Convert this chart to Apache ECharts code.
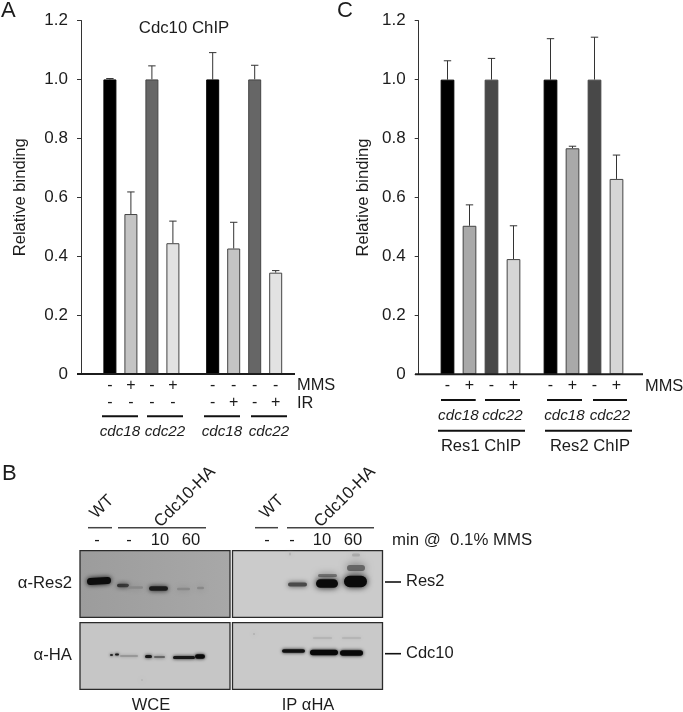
<!DOCTYPE html>
<html><head><meta charset="utf-8">
<style>html,body{margin:0;padding:0;background:#fff}#c{width:683px;height:712px;filter:blur(0.45px)}</style>
<script src="https://cdn.jsdelivr.net/npm/echarts@6/dist/echarts.min.js"></script>
</head><body><div id="c"></div>
<script>
// ---- data ----
const groupsA = ['cdc18 / cdc22 MMS', 'cdc18 / cdc22 IR'];
const groupsC = ['Res1 ChIP', 'Res2 ChIP'];
const yTicks = [0, 0.2, 0.4, 0.6, 0.8, 1.0, 1.2];

const a1 = [1.0, 1.0];
const a2 = [0.543, 0.426];
const a3 = [1.0, 1.0];
const a4 = [0.444, 0.344];
const a1Top = [1.003, 1.091];
const a2Top = [0.618, 0.515];
const a3Top = [1.046, 1.048];
const a4Top = [0.519, 0.351];

const c1 = [1.0, 1.0];
const c2 = [0.504, 0.767];
const c3 = [1.0, 1.0];
const c4 = [0.391, 0.663];
const c1Top = [1.064, 1.139];
const c2Top = [0.575, 0.774];
const c3Top = [1.072, 1.144];
const c4Top = [0.504, 0.744];

const mmsRowA = ['-','+','-','+','-','-','-','-'];
const irRowA  = ['-','-','-','-','-','+','-','+'];
const mmsRowC = ['-','+','-','+','-','+','-','+'];
const strainsA = ['cdc18','cdc22','cdc18','cdc22'];
const strainsC = ['cdc18','cdc22','cdc18','cdc22'];

// ---- styles ----
const FF = '"Liberation Sans", Arial, sans-serif';
const INK = '#1c1c1c';
const coloursA = ['#000000', '#c4c4c4', '#666666', '#e2e2e2'];
const coloursC = ['#000000', '#a9a9a9', '#484848', '#d6d6d6'];

const A = {left: 90, width: 205.6, top: 20.5, height: 353.5, step: 21, bar: 13, axisX: 81};
const C = {left: 429, width: 206, top: 20.7, height: 353.6, step: 22, bar: 13.7, axisX: 418.7};

function grid(p){ return {left:p.left, top:p.top, width:p.width, height:p.height, containLabel:false}; }
function xAxis(gi, cats){ return {
  type:'category', gridIndex:gi, data:cats,
  axisLine:{show:false}, axisTick:{show:false}, axisLabel:{show:false}, splitLine:{show:false}
};}
function yAxis(gi, p, gap){ return {
  type:'value', gridIndex:gi, min:0, max:1.2, interval:0.2, offset:p.left-p.axisX,
  name:'Relative binding', nameLocation:'middle', nameGap:gap,
  nameTextStyle:{fontFamily:FF, fontSize:16.6, color:INK},
  axisLine:{show:true, lineStyle:{color:'#333', width:1}},
  axisTick:{show:true, length:4, lineStyle:{color:'#333', width:1}},
  axisLabel:{fontFamily:FF, fontSize:17, color:INK, margin:13,
    formatter:v=>{ const t=yTicks.find(k=>Math.abs(k-v)<1e-6); return t===0?'0':t.toFixed(1); }},
  splitLine:{show:false}
};}
function barSeries(gi, p, vals, col){ return {
  type:'bar', xAxisIndex:gi, yAxisIndex:gi, data:vals, barWidth:p.bar,
  barGap:((p.step-p.bar)/p.bar*100)+'%', silent:true, animation:false,
  itemStyle:{color:col, borderColor:col==='#000000'?'#000':'#444', borderWidth:1}
};}
function errSeries(gi, p, slot, vals, tops){ return {
  type:'custom', xAxisIndex:gi, yAxisIndex:gi, silent:true, animation:false, clip:false, z:1,
  data: vals.map((v,i)=>[i,v,tops[i]]),
  renderItem:(params, api)=>{
    const b = api.coord([api.value(0), api.value(1)]);
    const t = api.coord([api.value(0), api.value(2)]);
    const x = b[0] + (slot-1.5)*p.step;
    const st = {stroke:'#333', lineWidth:1, fill:null};
    return {type:'group', children:[
      {type:'line', shape:{x1:x,y1:b[1],x2:x,y2:t[1]}, style:st},
      {type:'line', shape:{x1:x-3.7,y1:t[1],x2:x+3.7,y2:t[1]}, style:st}
    ]};
  }
};}
const series = [];
[[a1,a1Top],[a2,a2Top],[a3,a3Top],[a4,a4Top]].forEach((d,i)=>{
  series.push(errSeries(0,A,i,d[0],d[1])); series.push(barSeries(0,A,d[0],coloursA[i]));
});
[[c1,c1Top],[c2,c2Top],[c3,c3Top],[c4,c4Top]].forEach((d,i)=>{
  series.push(errSeries(1,C,i,d[0],d[1])); series.push(barSeries(1,C,d[0],coloursC[i]));
});

// ---- annotation helpers ----
const g = [];
function T(text,x,y,size,o){ o=o||{}; g.push({type:'text', x, y, rotation:o.rot||0, z:50, silent:true,
  style:{text, x:0, y:0, fill:o.fill||INK, align:o.align||'center', verticalAlign:'middle',
    font:(o.italic?'italic ':'')+size+'px '+FF}}); }
function L(x1,x2,y,w,c){ g.push({type:'rect', silent:true, z:50, shape:{x:x1,y:y-w/2,width:x2-x1,height:w}, style:{fill:c||INK}}); }

// panel letters
T('A',1,11,22,{align:'left'}); T('C',337,11,22,{align:'left'}); T('B',2,474,22,{align:'left'});
// panel A under-axis
T('Cdc10 ChIP',184,28,16.8);
L(77,295,374,2);
function centre(p,i){ const band=p.width/2, grp=i<4?0:1; return p.left+band*(grp+0.5)+((i%4)-1.5)*p.step; }
mmsRowA.forEach((s,i)=>T(s,centre(A,i),385.5,16));
irRowA.forEach((s,i)=>T(s,centre(A,i),403,16));
T('MMS',297,385.5,16.4,{align:'left'}); T('IR',297,403,16.4,{align:'left'});
[[102,138],[147,183],[204,240],[251,287]].forEach((r,i)=>{ L(r[0],r[1],416.3,2,'#111'); T(strainsA[i],(r[0]+r[1])/2,432,15.2,{italic:true}); });
// panel C under-axis
L(415,643,374.3,2);
mmsRowC.forEach((s,i)=>T(s,centre(C,i),386,16));
T('MMS',645,386,16.4,{align:'left'});
[[441,475.7],[485,520],[547,582],[593,627]].forEach((r,i)=>{ L(r[0],r[1],400,2,'#111'); T(strainsC[i],(r[0]+r[1])/2,415.7,15.2,{italic:true}); });
L(438,525,430.7,2,'#111'); L(545,632,430.7,2,'#111');
T('Res1 ChIP',481,446.7,16.6); T('Res2 ChIP',590,446.7,16.6);

// panel B blots
function panel(x,y,w,h,fill){ g.push({type:'rect', silent:true, z:20, shape:{x,y,width:w,height:h}, style:{fill, stroke:'#2a2a2a', lineWidth:1.3}}); }
function band(x1,x2,y,h,c,blur,rot){ g.push({type:'rect', silent:true, z:30, x:(x1+x2)/2, y, rotation:rot||0,
  shape:{x:-(x2-x1)/2,y:-h/2,width:x2-x1,height:h,r:h/2}, style:{fill:c, shadowBlur:blur==null?3:blur, shadowColor:c}}); }
const grad = (a,b)=>({type:'linear',x:0,y:0,x2:1,y2:0,colorStops:[{offset:0,color:a},{offset:1,color:b}]});
panel(80,550.7,150,66.6,grad('#9c9c9c','#a8a8a8'));
panel(232.5,550.7,150,66.6,'#cbcbcb');
panel(80,622.7,150,66.6,'#c6c6c6');
panel(232.5,622.7,150,66.6,'#c9c9c9');
// top-left
band(87,111,581,7,'#0c0c0c',5,0.06);
band(117,129,585.5,3.5,'#333',5);
band(128,143,587.5,2.5,'#888',6);
band(149,168,588.5,4.5,'#1a1a1a',5);
band(177,190,589,2.5,'#888',6);
band(197,204,588,2.5,'#888',6);
// bottom-left
band(110,113,655,2,'#2a2a2a',3); band(115,119,654.5,2,'#1a1a1a',3);
band(120,138,656,1.5,'#909090',3);
band(145,152,656.5,3,'#181818',3.5); band(154,165,657,2,'#666',3.5);
band(173,195,657.5,3,'#181818',3.5); band(195,205,656.5,4.5,'#0a0a0a',3.5);
band(141,143,680,2,'#b4b4b4',9);
// top-right
band(288,307,584.5,4,'#4a4a4a',5);
band(318,337,575.5,3,'#777',7);
band(316,338,583.5,8.5,'#0a0a0a',6);
band(352,360,555,3,'#aaa',6); band(289,291,554,3,'#b4b4b4',4);
band(347,365,568,6,'#666',8);
band(344,367,581.5,11.5,'#0a0a0a',6);
// bottom-right
band(282,305,651,3.5,'#101010',3.5);
band(310,338,652.5,5.5,'#080808',3.5);
band(340,363,653,5.5,'#080808',3.5);
band(313,332,638,1,'#aaa',3); band(342,361,638,1,'#aaa',3);
band(253,255,634,2,'#b0b0b0',4);
// B labels
T('WT',102,507,16.6,{rot:Math.PI/4}); T('Cdc10-HA',185,497,17,{rot:Math.PI/4});
T('WT',272,507,16.6,{rot:Math.PI/4}); T('Cdc10-HA',345,497,17,{rot:Math.PI/4});
L(88,112,527.7,1.5,'#444'); L(118,206,527.7,1.5,'#444'); L(255,278,527.7,1.5,'#444'); L(287,374,527.7,1.5,'#444');
[['-',97],['-',129],['10',160],['60',191],['-',267],['-',292],['10',322],['60',353]].forEach(d=>T(d[0],d[1],540,16.6));
T('min @  0.1% MMS',392,540,16.8,{align:'left'});
T('α-Res2',72,583,16.7,{align:'right'}); T('α-HA',72,655.7,16.7,{align:'right'});
L(385,401,582,1.6,'#111'); L(385,401,653.7,1.6,'#111');
T('Res2',406,581,16.5,{align:'left'}); T('Cdc10',406,653.5,16.5,{align:'left'});
T('WCE',151,705,16.5); T('IP αHA',308,705,16.5);

const chart = echarts.init(document.getElementById('c'), null, {renderer:'canvas'});
chart.setOption({
  animation:false, backgroundColor:'#ffffff',
  grid:[grid(A),grid(C)],
  xAxis:[xAxis(0,groupsA),xAxis(1,groupsC)],
  yAxis:[yAxis(0,A,52),yAxis(1,C,47)],
  series, graphic:{elements:g}
});
</script></body></html>
